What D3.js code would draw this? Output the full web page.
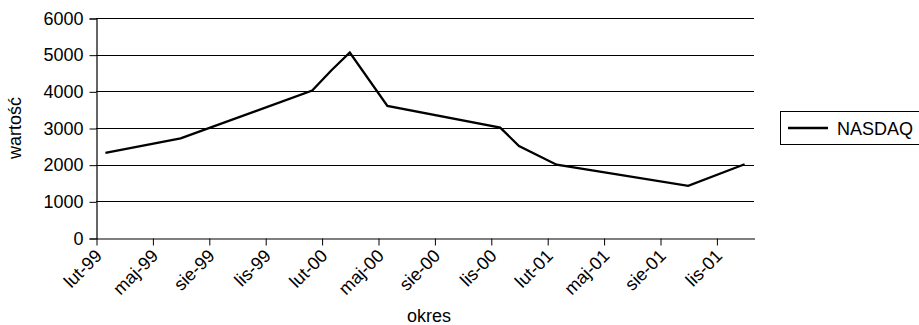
<!DOCTYPE html>
<html>
<head>
<meta charset="utf-8">
<script src="https://cdn.jsdelivr.net/npm/d3@7"></script>
<style>
  body { margin: 0; background: #fff; }
  svg { display: block; }
  text { font-family: "Liberation Sans", Arial, sans-serif; fill: #000; }
</style>
</head>
<body>
<svg id="chart" width="919" height="325"></svg>
<script>
// ---- data ----
const axisStart = "1999-02";            // first month on the date axis
const axisMonths = 35;                  // lut-99 .. gru-01
const dates = ["1999-02","1999-06","2000-01","2000-02","2000-03","2000-05","2000-11","2000-12","2001-02","2001-09","2001-12"];
const nasdaq = [2320, 2720, 4020, 4560, 5060, 3600, 3010, 2510, 2000, 1420, 2010];
const tickLabels = ["lut-99","maj-99","sie-99","lis-99","lut-00","maj-00","sie-00","lis-00","lut-01","maj-01","sie-01","lis-01"];
const yTicks = [0, 1000, 2000, 3000, 4000, 5000, 6000];
const seriesName = "NASDAQ";
const xTitle = "okres";
const yTitle = "wartość";

// ---- helpers ----
function monthIndex(s) {
  const [yy, mm] = s.split("-").map(Number);
  const [y0, m0] = axisStart.split("-").map(Number);
  return (yy - y0) * 12 + (mm - m0);
}

const svg = d3.select("#chart");
const pL = 96, pR = 754, pT = 18, pB = 238;
const fs = 18;

const x = d3.scaleLinear().domain([0, axisMonths]).range([pL, pR]);
const y = d3.scaleLinear().domain([0, 6000]).range([pB, pT]);

// gridlines
svg.append("g")
  .selectAll("line").data(yTicks.filter(d => d > 0)).join("line")
  .attr("x1", pL).attr("x2", pR)
  .attr("y1", d => Math.round(y(d)) + 0.5).attr("y2", d => Math.round(y(d)) + 0.5)
  .attr("stroke", "#000").attr("stroke-width", 1);

// y axis
const yAxis = d3.axisLeft(y).tickValues(yTicks).tickSize(7).tickPadding(6).tickFormat(d3.format("d"));
const gy = svg.append("g").attr("transform", `translate(${pL + 0.5},0.5)`).call(yAxis);
gy.select(".domain").attr("stroke", "#000").attr("stroke-width", 1.2);
gy.selectAll(".tick line").attr("stroke", "#000");
gy.selectAll(".tick text").attr("font-size", fs).attr("font-family", "Liberation Sans, Arial, sans-serif");

// x axis (ticks only; labels drawn rotated below)
const xTickVals = tickLabels.map((_, i) => i * 3);
const xAxis = d3.axisBottom(x).tickValues(xTickVals).tickSize(7).tickSizeOuter(0)
  .tickFormat(() => "");
const gx = svg.append("g").attr("transform", `translate(0.5,${pB + 0.5})`).call(xAxis);
gx.select(".domain").attr("stroke", "#000").attr("stroke-width", 1.2);
gx.selectAll(".tick line").attr("stroke", "#000");
gx.selectAll(".tick text").remove();

svg.append("g").selectAll("text").data(xTickVals).join("text")
  .attr("font-size", fs)
  .attr("text-anchor", "end")
  .attr("transform", d => `translate(${x(d) + 7},${pB + 19}) rotate(-45)`)
  .text((d, i) => tickLabels[i]);

// line
const pts = dates.map((d, i) => ({ m: monthIndex(d) + 0.5, v: nasdaq[i] }));
const line = d3.line().x(d => x(d.m)).y(d => y(d.v));
svg.append("path").datum(pts)
  .attr("d", line)
  .attr("fill", "none").attr("stroke", "#000").attr("stroke-width", 2.3)
  .attr("stroke-linejoin", "miter");

// axis titles
svg.append("text").attr("x", (pL + pR) / 2 + 4).attr("y", 322)
  .attr("text-anchor", "middle").attr("font-size", fs).text(xTitle);
svg.append("text").attr("transform", `translate(21,${(pT + pB) / 2}) rotate(-90)`)
  .attr("text-anchor", "middle").attr("font-size", fs).text(yTitle);

// legend
const lg = svg.append("g");
lg.append("rect").attr("x", 780.5).attr("y", 111.5).attr("width", 150).attr("height", 33)
  .attr("fill", "#fff").attr("stroke", "#000").attr("stroke-width", 1);
lg.append("line").attr("x1", 788).attr("x2", 828).attr("y1", 128).attr("y2", 128)
  .attr("stroke", "#000").attr("stroke-width", 2.3);
lg.append("text").attr("x", 837).attr("y", 134.5).attr("font-size", fs).text(seriesName);
</script>
</body>
</html>
